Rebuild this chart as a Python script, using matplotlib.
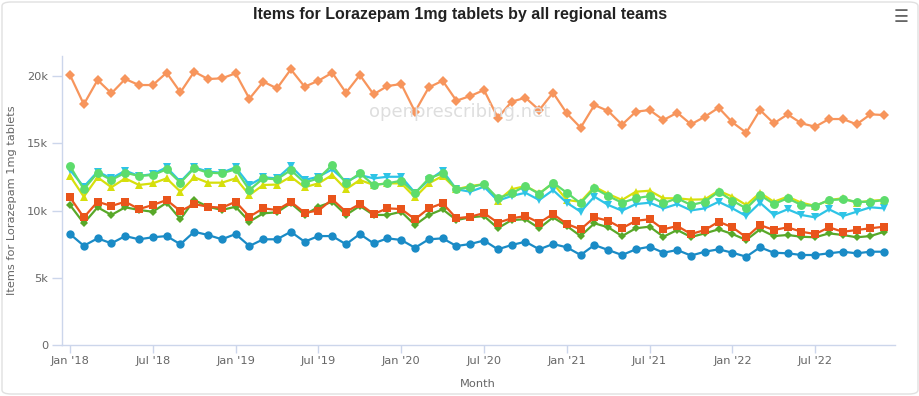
import matplotlib
matplotlib.use("Agg")
import matplotlib.pyplot as plt
from matplotlib.patches import FancyBboxPatch
import numpy as np

months = np.arange(60)
tick_positions = [0, 6, 12, 18, 24, 30, 36, 42, 48, 54]
tick_labels = ["Jan '18", "Jul '18", "Jan '19", "Jul '19", "Jan '20", "Jul '20",
               "Jan '21", "Jul '21", "Jan '22", "Jul '22"]
y_ticks = [0, 5000, 10000, 15000, 20000]
y_tick_labels = ["0", "5k", "10k", "15k", "20k"]

orange = [20075, 17896, 19703, 18714, 19777, 19331, 19331, 20246, 18788, 20320,
          19777, 19829, 20201, 18313, 19577, 19086, 20498, 19205, 19651, 20246,
          18758, 20075, 18640, 19257, 19405, 17348, 19158, 19651, 18166, 18513,
          18959, 16902, 18092, 18388, 17472, 18760, 17225, 16158, 17844, 17398,
          16380, 17348, 17472, 16729, 17273, 16409, 16975, 17645, 16556, 15787,
          17472, 16481, 17150, 16481, 16233, 16803, 16803, 16409, 17150, 17100]

blue = [8250, 7380, 7930, 7560, 8100, 7860, 8010, 8100, 7490, 8420,
        8180, 7860, 8250, 7360, 7860, 7860, 8420, 7680, 8100, 8100,
        7490, 8250, 7560, 7930, 7810, 7230, 7860, 7930, 7360, 7510,
        7770, 7115, 7435, 7680, 7115, 7509, 7264, 6692, 7435, 7063,
        6692, 7115, 7309, 6862, 7063, 6650, 6937, 7115, 6862, 6565,
        7264, 6862, 6818, 6692, 6692, 6818, 6937, 6818, 6937, 6937]

red = [10980, 9490, 10650, 10340, 10650, 10110, 10410, 10780, 9960, 10480,
       10280, 10210, 10650, 9540, 10160, 10040, 10650, 9840, 9990, 10830,
       9910, 10480, 9740, 10160, 10110, 9350, 10160, 10540, 9420, 9540,
       9810, 9090, 9420, 9590, 9090, 9740, 9000, 8600, 9490, 9240,
       8680, 9240, 9350, 8600, 8850, 8250, 8550, 9170, 8750, 8010,
       8920, 8550, 8750, 8420, 8250, 8750, 8420, 8550, 8680, 8800]

green = [10410, 9050, 10240, 9670, 10240, 10040, 9910, 10580, 9350, 10780,
         10280, 10040, 10280, 9170, 9790, 9870, 10540, 9670, 10280, 10650,
         9670, 10340, 9670, 9670, 9910, 8920, 9670, 10090, 9290, 9490,
         9590, 8680, 9290, 9350, 8680, 9490, 8850, 8100, 9050, 8750,
         8100, 8680, 8800, 8050, 8550, 8030, 8300, 8600, 8250, 7810,
         8600, 8100, 8180, 8050, 8010, 8300, 8180, 8010, 8100, 8420]

light_green = [13310, 11580, 12810, 12270, 12810, 12570, 12640, 13060, 12070, 13140,
               12810, 12770, 13060, 11520, 12390, 12320, 13010, 12070, 12390, 13380,
               12020, 12770, 11900, 12020, 12220, 11280, 12390, 12770, 11580, 11730,
               11970, 10910, 11280, 11820, 11230, 12070, 11320, 10540, 11650, 11080,
               10580, 10910, 11080, 10540, 10910, 10410, 10650, 11400, 10730, 10160,
               11150, 10480, 10910, 10410, 10340, 10780, 10830, 10650, 10650, 10780]

cyan = [13010, 11770, 12890, 12390, 12960, 12570, 12710, 13210, 12140, 13210,
        12890, 12810, 13210, 11900, 12470, 12390, 13310, 12270, 12510, 13060,
        12140, 12640, 12390, 12510, 12510, 11320, 12270, 12960, 11580, 11400,
        11770, 10730, 11080, 11320, 10780, 11520, 10580, 9910, 11030, 10410,
        9990, 10480, 10580, 10160, 10480, 10010, 10160, 10650, 10160, 9590,
        10580, 9670, 10090, 9670, 9490, 10090, 9590, 9910, 10240, 10160]

yellow = [12570, 11030, 12470, 11730, 12390, 11900, 12020, 12390, 11400, 12470,
          12070, 12070, 12390, 11150, 11900, 11930, 12510, 11730, 12020, 12640,
          11580, 12270, 11900, 12020, 12020, 10980, 12020, 12570, 11580, 11820,
          11960, 10730, 11580, 11820, 11280, 12020, 10780, 10650, 11770, 11230,
          10780, 11400, 11470, 10910, 10910, 10810, 10830, 11470, 11030, 10410,
          11320, 10650, 11030, 10580, 10340, 10780, 10910, 10580, 10730, 10780]

W, H = 920, 396
fig = plt.figure(figsize=(W / 100, H / 100), dpi=100)
fig.patch.set_facecolor("white")

border = FancyBboxPatch((2 / W, 2 / H), 1 - 4 / W, 1 - 4 / H,
                        boxstyle="round,pad=0,rounding_size=0.01",
                        transform=fig.transFigure, fill=False,
                        edgecolor="#e0e0e0", linewidth=1.0)
fig.patches.append(border)

ax = fig.add_axes([62 / W, 51 / H, (895 - 62) / W, (345 - 56) / H])
ax.set_facecolor("white")

series = [
    (orange, "#f7955c", "D", 4.6),
    (blue, "#1a8bc6", "o", 6.0),
    (green, "#58a829", "D", 4.4),
    (red, "#e9541b", "s", 6.0),
    (yellow, "#d6df0c", "^", 6.0),
    (cyan, "#2ec4e6", "v", 6.0),
    (light_green, "#5ddc6c", "o", 6.4),
]
for vals, col, mk, ms in series:
    ax.plot(months, vals, color=col, marker=mk, markersize=ms,
            linewidth=1.6, markeredgewidth=0, zorder=3)

ax.set_xlim(-0.58, 59.78)
ax.set_ylim(0, 21490)

ax.set_xticks(tick_positions)
ax.set_xticklabels(tick_labels)
ax.set_yticks(y_ticks)
ax.set_yticklabels(y_tick_labels)

for s in ["top", "right"]:
    ax.spines[s].set_visible(False)
ax.spines["left"].set_color("#ccd6eb")
ax.spines["bottom"].set_color("#ccd6eb")
ax.spines["left"].set_linewidth(1.0)
ax.spines["bottom"].set_linewidth(1.0)

ax.tick_params(axis="x", colors="#ccd6eb", length=6, width=1, labelcolor="#666666",
               labelsize=8.2, pad=2)
ax.tick_params(axis="y", colors="#ccd6eb", length=7, width=1, labelcolor="#666666",
               labelsize=8.2, pad=3)

ax.set_xlabel("Month", color="#666666", fontsize=8.2)
ax.xaxis.set_label_coords((478 - 62) / 833, -(379 - 345) / 289)
ax.set_ylabel("Items for Lorazepam 1mg tablets", color="#666666", fontsize=8.2)
ax.yaxis.set_label_coords((17 - 62) / 833, 0.5)

fig.text(460 / W, 1 - 15 / H, "Items for Lorazepam 1mg tablets by all regional teams",
         ha="center", va="center", fontsize=11.5, fontweight="bold", color="#222222",
         family=["Liberation Sans", "DejaVu Sans"])

fig.text(460 / W, 1 - 112 / H, "openprescribing.net", ha="center", va="center",
         fontsize=13, color="#dedede", zorder=1)

fig.text(901 / W, 1 - 17 / H, "\u2630", ha="center", va="center",
         fontsize=12, color="#666666", family=["DejaVu Sans"])

fig.savefig("out.png", dpi=100, facecolor="white")
